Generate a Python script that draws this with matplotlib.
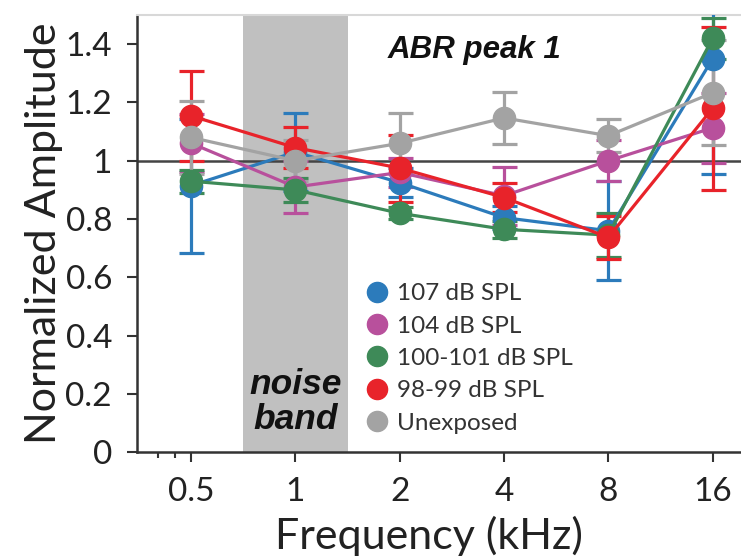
import matplotlib
matplotlib.use("Agg")
import matplotlib.pyplot as plt
from matplotlib.lines import Line2D
import numpy as np

# ---- data ----
freqs = [0.5, 1, 2, 4, 8, 16]
tick_labels = ["0.5", "1", "2", "4", "8", "16"]

labels = ["107 dB SPL", "104 dB SPL", "100-101 dB SPL", "98-99 dB SPL", "Unexposed"]
colors = ["#2c7bbb", "#b8509c", "#3e8a58", "#e8232a", "#a3a3a3"]

mean_107 = [0.915, 1.03, 0.925, 0.805, 0.76, 1.35]
err_107 = [0.23, 0.135, 0.05, 0.04, 0.17, 0.395]

mean_104 = [1.06, 0.91, 0.96, 0.88, 1.00, 1.113]
err_104 = [0.10, 0.09, 0.05, 0.10, 0.07, 0.12]

mean_100 = [0.93, 0.90, 0.82, 0.765, 0.745, 1.42]
err_100 = [0.04, 0.04, 0.02, 0.03, 0.075, 0.07]

mean_98 = [1.154, 1.045, 0.975, 0.874, 0.737, 1.18]
err_98 = [0.155, 0.07, 0.115, 0.05, 0.075, 0.28]

mean_unexp = [1.08, 1.00, 1.06, 1.147, 1.086, 1.233]
err_unexp = [0.125, 0.07, 0.105, 0.088, 0.057, 0.18]

means = [mean_107, mean_104, mean_100, mean_98, mean_unexp]
errs = [err_107, err_104, err_100, err_98, err_unexp]

noise_band = (2 ** -0.5, 2 ** 0.5)

# ---- figure ----
fig = plt.figure(figsize=(7.41, 5.57), dpi=100)
ax = fig.add_axes([0.185, 0.188, 0.83, 0.785])

ax.axvspan(noise_band[0], noise_band[1], color="#c0c0c0", zorder=0, lw=0)
ax.axhline(1.0, color="#444444", lw=1.8, zorder=1)

for m, e, c in zip(means, errs, colors):
    ax.errorbar(freqs, m, yerr=e, color=c, ecolor=c, elinewidth=2.3,
                capsize=9, capthick=2.3, lw=2.3, marker="o", ms=16,
                mec=c, mfc=c, zorder=3)

ax.set_xscale("log", base=2)
ax.set_xlim(0.349, 20.8)
ax.set_ylim(0, 1.5)
ax.set_xticks(freqs)
ax.set_xticklabels(tick_labels)
ax.set_xticks([0.4, 0.45], minor=True)
ax.set_xticklabels([], minor=True)
ax.set_yticks([0, 0.2, 0.4, 0.6, 0.8, 1.0, 1.2, 1.4])
ax.set_yticklabels(["0", "0.2", "0.4", "0.6", "0.8", "1", "1.2", "1.4"])

for lab in ax.get_xticklabels() + ax.get_yticklabels():
    lab.set_fontfamily("Lato")
    lab.set_fontsize(24)
    lab.set_color("#222222")

ax.tick_params(axis="both", which="major", direction="out", length=7, width=1.5,
               color="#333333")
ax.tick_params(axis="x", which="major", pad=11)
ax.tick_params(axis="y", which="major", pad=11)
ax.tick_params(axis="x", which="minor", direction="out", length=4, width=1.5,
               color="#333333")

for s in ["left", "bottom"]:
    ax.spines[s].set_color("#333333")
    ax.spines[s].set_linewidth(1.8)
ax.spines["top"].set_color("#d8d8d8")
ax.spines["top"].set_linewidth(1.5)
ax.spines["right"].set_visible(False)

ax.set_xlabel("Frequency (kHz)", family="Lato", fontsize=31, color="#222222")
ax.xaxis.set_label_coords((429 - 137) / (0.83 * 741), -0.145)
ax.set_ylabel("Normalized Amplitude", family="Lato", fontsize=31, color="#222222", labelpad=2)

ax.text(0.548, 0.92, "ABR peak 1", transform=ax.transAxes, ha="center", va="center",
        family="Liberation Sans", fontsize=22.5, fontweight="bold", style="italic",
        color="#111111")
ax.text(1.0, 0.115, "noise\nband", transform=ax.get_xaxis_transform(), ha="center",
        va="center", family="Liberation Sans", fontsize=25.5, fontweight="bold",
        style="italic", color="#111111", linespacing=1.05)

handles = [Line2D([], [], ls="none", marker="o", ms=14.5, mfc=c, mec=c) for c in colors]
leg = ax.legend(handles, labels, loc="upper left", bbox_to_anchor=(0.373, 0.387),
                frameon=False, handletextpad=0.42, labelspacing=0.47,
                prop=dict(family="Lato", size=17.5), handlelength=0.85,
                borderaxespad=0, borderpad=0)
for t in leg.get_texts():
    t.set_color("#333333")

fig.savefig("out.png", dpi=100)
